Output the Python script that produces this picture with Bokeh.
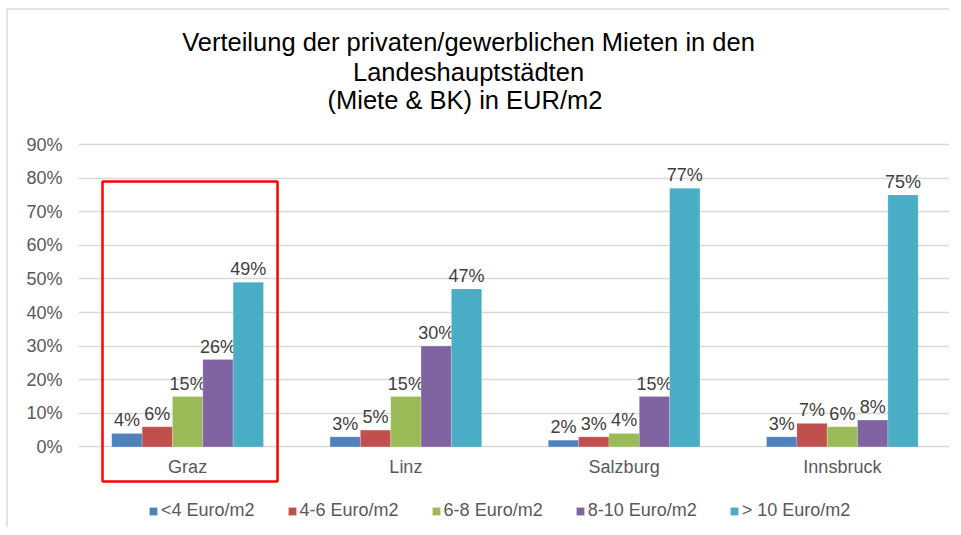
from bokeh.plotting import figure
from bokeh.models import (Range1d, FixedTicker, NumeralTickFormatter, BoxAnnotation,
                          Legend, LegendItem)
from bokeh.core.properties import value
from bokeh.embed import file_html
from bokeh.resources import INLINE

# ---------------- data ----------------
cities = ["Graz", "Linz", "Salzburg", "Innsbruck"]
series_names = ["<4 Euro/m2", "4-6 Euro/m2", "6-8 Euro/m2", "8-10 Euro/m2", "> 10 Euro/m2"]
below_4 = [4, 3, 2, 3]
from_4_to_6 = [6, 5, 3, 7]
from_6_to_8 = [15, 15, 4, 6]
from_8_to_10 = [26, 30, 15, 8]
above_10 = [49, 47, 77, 75]
series_colors = ["#4F81BD", "#C0504D", "#9BBB59", "#8064A2", "#4BACC6"]
y_ticks = [0, 10, 20, 30, 40, 50, 60, 70, 80, 90]
title_lines = ["Verteilung der privaten/gewerblichen Mieten in den",
               "Landeshauptstädten",
               " (Miete & BK) in EUR/m2"]
highlighted_city = "Graz"

series_values = [below_4, from_4_to_6, from_6_to_8, from_8_to_10, above_10]

FONT = value("Liberation Sans")

p = figure(width=943, height=519, output_backend="svg", toolbar_location=None,
           x_range=Range1d(0, 4), y_range=Range1d(-0.2458, 1.2988),
           x_axis_location=None, min_border_left=70, min_border_right=0,
           min_border_top=0, min_border_bottom=0, tools="")
p.outline_line_color = None
p.background_fill_color = "white"
p.border_fill_color = "white"
p.styles = {"border-top": "2px solid #e3e3e3", "border-left": "2px solid #e3e3e3",
            "margin-left": "6px", "margin-top": "8px"}

# y axis
ax = p.yaxis[0]
ax.ticker = FixedTicker(ticks=[t / 100 for t in y_ticks])
ax.formatter = NumeralTickFormatter(format="0%")
ax.axis_line_color = None
ax.major_tick_line_color = None
ax.minor_tick_line_color = None
ax.major_tick_in = 0
ax.major_tick_out = 0
ax.major_label_standoff = 16
ax.major_label_text_font = "Liberation Sans"
ax.major_label_text_font_size = "18px"
ax.major_label_text_color = "#595959"

p.xgrid.visible = False
p.ygrid.ticker = FixedTicker(ticks=[t / 100 for t in y_ticks])
p.ygrid.grid_line_color = "#d9d9d9"
p.ygrid.grid_line_width = 1.5

bw = 0.139
renderers = []
for i, (name, vals, col) in enumerate(zip(series_names, series_values, series_colors)):
    xs = [c + 0.5 + (i - 2) * bw for c in range(len(cities))]
    tops = [v / 100 for v in vals]
    r = p.vbar(x=xs, top=tops, bottom=0, width=bw, fill_color=col,
               line_color="#ffffff", line_alpha=0.4, line_width=0.5)
    renderers.append(r)
    p.text(x=xs, y=tops, text=[f"{v}%" for v in vals], text_align="center",
           text_baseline="alphabetic", y_offset=-13, text_font=FONT,
           text_font_size="18px", text_color="#404040")

# category labels
p.text(x=[c + 0.5 for c in range(len(cities))], y=[-0.061] * len(cities), text=cities,
       text_align="center", text_baseline="middle", text_font=FONT,
       text_font_size="18px", text_color="#595959")

# title lines
title_y = [1.2051, 1.1158, 1.0324]
p.text(x=[1.787] * 3, y=title_y, text=title_lines, text_align="center",
       text_baseline="alphabetic", text_font=FONT, text_font_size="25.5px",
       text_color="#000000")

# highlight box around the first city group
hi = cities.index(highlighted_city)
p.add_layout(BoxAnnotation(left=hi + 0.11, right=hi + 0.912, bottom=-0.103, top=0.79,
                           fill_alpha=0, line_color="#ff0000", line_width=2.5,
                           line_alpha=1))

legend = Legend(items=[LegendItem(label=n, renderers=[r]) for n, r in zip(series_names, renderers)],
                orientation="horizontal", location=(70, 8), padding=0, margin=0,
                spacing=32, glyph_width=10, glyph_height=10, label_standoff=3,
                label_text_font="Liberation Sans", label_text_font_size="18px",
                label_text_color="#595959", border_line_color=None,
                background_fill_alpha=0)
p.add_layout(legend)

open("out.html", "w").write(file_html(p, INLINE))
